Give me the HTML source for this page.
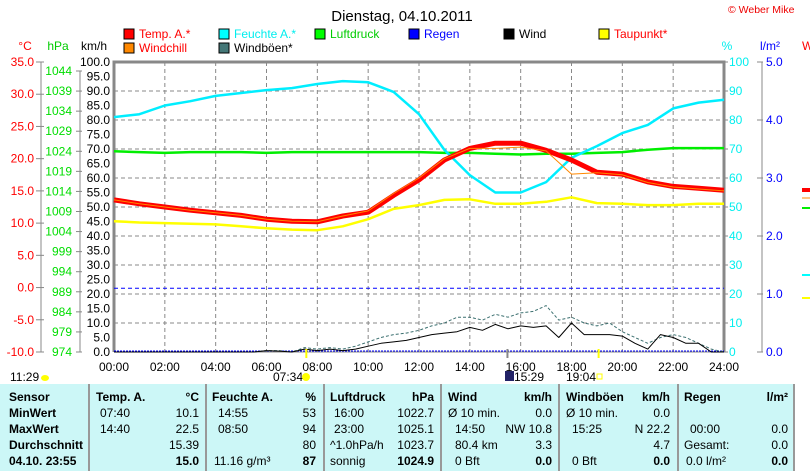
<!DOCTYPE html>
<html><head><meta charset="utf-8"><style>
body{margin:0;width:810px;height:471px;overflow:hidden;background:#fff;font-family:"Liberation Sans",sans-serif;position:relative}
svg{position:absolute;left:0;top:0}
#tbl{position:absolute;left:0;top:384px;width:795px;height:87px;background:#ccf7f7;font-size:12px}
.c{position:absolute;white-space:nowrap}
.b{font-weight:bold}
.sep{position:absolute;top:0;width:2px;height:87px;background:#999}
</style></head><body>
<svg id="chart" width="810" height="384"></svg>
<div id="tbl"></div>
<script>
const hours=[0,1,2,3,4,5,6,7,8,9,10,11,12,13,14,15,16,17,18,19,20,21,22,23,24];
const temp=[13.6,13.0,12.5,12.0,11.6,11.2,10.6,10.3,10.2,11.1,11.7,14.3,16.7,19.8,21.6,22.4,22.4,21.3,19.8,17.9,17.6,16.4,15.7,15.4,15.1];
const windchill=[13.6,13.0,12.5,12.0,11.6,11.2,10.6,10.3,10.2,11.1,11.9,14.6,17.0,20.0,21.6,21.6,21.8,21.2,17.6,17.8,17.5,16.3,15.6,15.3,15.0];
const humidity=[81,82,85,86.5,88.3,89.3,90.3,91,92.4,93.4,93,89.7,82,69.7,61,55,55,58.6,67,71,75.5,78.3,84,86,87];
const pressure=[1024.0,1023.8,1023.6,1023.8,1023.8,1023.8,1023.6,1023.8,1023.8,1023.8,1023.8,1023.8,1023.8,1023.6,1023.6,1023.4,1023.2,1023.4,1023.4,1023.6,1023.8,1024.4,1024.8,1024.8,1024.8];
const dewpoint=[10.3,10.1,10.0,9.9,9.8,9.5,9.2,9.0,8.9,9.5,10.6,12.2,12.8,13.6,13.7,13.0,13.0,13.3,14.0,13.1,13.0,12.8,12.8,13.0,13.0];
const wind=[0,0,0,0,0,0,0,0,0,0,0,0,0.5,0.3,0,1,0.5,1,0.5,1,2,3,3.5,4,5,6,6.5,7,8.5,7.5,9.5,8,9,8.5,9,5,10,6,6,6,5.5,3,1,6,5,3,3,0,0];
const gust=[0,0,0,0,0,0,0,0,0,0,0,0,0.5,0.5,0,1.5,1,1.5,1,2,3.5,5,6,6.5,7.5,9,10,12,12,11,13,12,13.5,14,16,11,12,10,9,10,7,5,3,5,6,5,3,1,0];
const kmhTicks=[0,5,10,15,20,25,30,35,40,45,50,55,60,65,70,75,80,85,90,95,100];
const cTicks=[-10,-5,0,5,10,15,20,25,30,35];
const hpaTicks=[974,979,984,989,994,999,1004,1009,1014,1019,1024,1029,1034,1039,1044];
const pctTicks=[0,10,20,30,40,50,60,70,80,90,100];
const rainTicks=[0,1,2,3,4,5];
const timeLabels=["00:00","02:00","04:00","06:00","08:00","10:00","12:00","14:00","16:00","18:00","20:00","22:00","24:00"];

const X0=114,X1=724,Y0=62,Y1=352;
const xs=h=>X0+(X1-X0)*h/24;
const yK=v=>Y1-(Y1-Y0)*v/100;
const yC=v=>Y0+(35-v)*(Y1-Y0)/45;
const yP=v=>71+(1044-v)*(352-71)/70;
const yR=v=>Y1-(Y1-Y0)*v/5;
const S=document.getElementById('chart');
const NS='http://www.w3.org/2000/svg';
function mk(tag,at,txt){const e=document.createElementNS(NS,tag);for(const k in at)e.setAttribute(k,at[k]);if(txt!==undefined)e.textContent=txt;S.appendChild(e);return e;}
function txt(x,y,s,fill,anchor,size,name){const e=mk('text',{x:x,y:y,fill:fill,'text-anchor':anchor||'start','font-size':size||12,'font-family':'Liberation Sans, sans-serif'},s);

return e;}

txt(402,21,'Dienstag, 04.10.2011','#000','middle',15,'chart-title');
txt(728,13,'© Weber Mike','#e00','start',10.5,'copyright');
// legend
const leg=[[124,38,'#f00','Temp. A.*','#f00'],[219,38,'#0ff','Feuchte A.*','#0ee'],[315,38,'#0f0','Luftdruck','#0c0'],[409,38,'#00f','Regen','#00f'],[504,38,'#000','Wind','#000'],[599,38,'#ff0','Taupunkt*','#f00'],[124,52,'#f80','Windchill','#f00'],[219,52,'#477','Windböen*','#000']];
leg.forEach(l=>{const r=mk('rect',{x:l[0],y:l[1]-9,width:10,height:10,fill:l[2],stroke:'#000'});


txt(l[0]+15,l[1],l[3],l[4],'start',12,'legend-entry');});
txt(25,50,'°C','#f00','middle',12,'celsius-axis-title');
txt(58,50,'hPa','#0c0','middle',12,'hpa-axis-title');
txt(94,50,'km/h','#000','middle',12,'kmh-axis-title');
txt(727,50,'%','#0ee','middle',12,'percent-axis-title');
txt(770,50,'l/m²','#00f','middle',12,'rain-axis-title');
txt(802,50,'W','#f00','start',12,'partial-title');
// grid
for(let i=1;i<10;i++){const y=yK(i*10);const g=mk('line',{x1:X0,x2:X1,y1:y,y2:y,stroke:'#888','stroke-dasharray':'4,3'});

}
for(let i=1;i<12;i++){const x=xs(i*2);const g=mk('line',{x1:x,x2:x,y1:Y0,y2:Y1,stroke:'#888','stroke-dasharray':'4,3'});

}
// frame
mk('polyline',{points:`${X0},${Y1} ${X0},${Y0} ${X1},${Y0} ${X1},${Y1}`,fill:'none',stroke:'#888','stroke-width':3});
mk('line',{x1:X0,x2:X1,y1:Y1,y2:Y1,stroke:'#888','stroke-width':1});
// axes
mk('line',{x1:41,x2:41,y1:62,y2:352,stroke:'#888'});
mk('line',{x1:80,x2:80,y1:71,y2:352,stroke:'#888'});
mk('line',{x1:762,x2:762,y1:62,y2:352,stroke:'#888'});
cTicks.forEach(v=>{mk('line',{x1:36,x2:44,y1:yC(v),y2:yC(v),stroke:'#888'});txt(34,yC(v)+4,v.toFixed(1),'#f00','end',12,'celsius-tick');});
hpaTicks.forEach(v=>{mk('line',{x1:76,x2:82,y1:yP(v),y2:yP(v),stroke:'#888'});txt(72,yP(v)+4,String(v),'#0d0','end',12,'hpa-tick');});
kmhTicks.forEach(v=>{txt(110,yK(v)+4,v.toFixed(1),'#000','end',12,'kmh-tick');});
pctTicks.forEach(v=>{mk('line',{x1:724,x2:728,y1:yK(v),y2:yK(v),stroke:'#888'});txt(729,yK(v)+4,String(v),'#0ee','start',12,'percent-tick');});
rainTicks.forEach(v=>{mk('line',{x1:757,x2:763,y1:yR(v),y2:yR(v),stroke:'#888'});txt(766,yR(v)+4,v.toFixed(1),'#00f','start',12,'rain-tick');});
timeLabels.forEach((t,i)=>txt(xs(i*2),371,t,'#000','middle',12,'time-tick'));
// rain
mk('line',{x1:X0,x2:X1,y1:yK(22),y2:yK(22),stroke:'#00f','stroke-dasharray':'4,3'});
mk('line',{x1:X0,x2:X1,y1:Y1-1,y2:Y1-1,stroke:'#00f','stroke-dasharray':'2,1'});
function series(arr,xf,yf,color,w,name,dash){const p=arr.map((v,i)=>xf(i).toFixed(1)+','+yf(v).toFixed(1)).join(' ');
const e=mk('polyline',{points:p,fill:'none',stroke:color,'stroke-width':w,'stroke-linejoin':'round'});if(dash)e.setAttribute('stroke-dasharray',dash);

}
const xh=i=>xs(hours[i]);
const xhh=i=>xs(i/2);
series(gust,xhh,yK,'#3c7070',1,'gust-series','3,2');
series(wind,xhh,yK,'#000',1,'wind-series');
series(dewpoint,xh,yC,'#ff0',2.5,'dewpoint-series');
series(pressure,xh,yP,'#0e0',2.5,'pressure-series');
series(humidity,xh,yK,'#0ef',2.5,'humidity-series');
series(temp,xh,yC,'#f00',5,'temp-series');
series(windchill,xh,yC,'#f80',1,'windchill-series');
// sun markers
mk('line',{x1:xs(7.567),x2:xs(7.567),y1:349,y2:358,stroke:'#ff0','stroke-width':2});
mk('line',{x1:xs(19.067),x2:xs(19.067),y1:349,y2:358,stroke:'#ff0','stroke-width':2});
mk('line',{x1:xs(15.48),x2:xs(15.48),y1:349,y2:358,stroke:'#888','stroke-width':2});
txt(10,381,'11:29','#000','start',12,'moonrise-time');
mk('ellipse',{cx:45,cy:378,rx:4,ry:3,fill:'#ff0'});
txt(273,381,'07:34','#000','start',12,'sunrise-time');
mk('circle',{cx:306,cy:377,r:4,fill:'#ff0'});
mk('rect',{x:505,y:371,width:9,height:10,fill:'#226'});
txt(514,381,'15:29','#000','start',12,'moonset-time');
txt(566,381,'19:04','#000','start',12,'sunset-time');
mk('rect',{x:597,y:374,width:5,height:5,fill:'none',stroke:'#ff0'});
// right partial legend
[[190,'#f00',4],[198,'#f80',1],[208,'#0e0',2],[275,'#0ff',2],[298,'#ff0',2]].forEach(a=>mk('line',{x1:802,x2:810,y1:a[0],y2:a[0],stroke:a[1],'stroke-width':a[2]}));

// table
const T=document.getElementById('tbl');
function cell(x,y,s,cls,al,name){const d=document.createElement('div');d.className='c '+(cls||'');d.style.top=(y-9)+'px';
if(al==='r'){d.style.right=(795-x)+'px';}else d.style.left=x+'px';d.innerHTML=s;

T.appendChild(d);}
[88,205,323,440,558,677,793].forEach(x=>{const s=document.createElement('div');s.className='sep';s.style.left=x+'px';

T.appendChild(s);});
const R=[15,31,47,63,79];
['Sensor','MinWert','MaxWert','Durchschnitt','04.10. 23:55'].forEach((s,i)=>cell(9,R[i],s,'b','l','row-label'));
cell(96,R[0],'Temp. A.','b');cell(199,R[0],'°C','b','r');
cell(100,R[1],'07:40');cell(199,R[1],'10.1','','r');
cell(100,R[2],'14:40');cell(199,R[2],'22.5','','r');
cell(199,R[3],'15.39','','r');cell(199,R[4],'15.0','b','r');
cell(212,R[0],'Feuchte A.','b');cell(316,R[0],'%','b','r');
cell(218,R[1],'14:55');cell(316,R[1],'53','','r');
cell(218,R[2],'08:50');cell(316,R[2],'94','','r');
cell(316,R[3],'80','','r');cell(214,R[4],'11.16 g/m³');cell(316,R[4],'87','b','r');
cell(330,R[0],'Luftdruck','b');cell(434,R[0],'hPa','b','r');
cell(334,R[1],'16:00');cell(434,R[1],'1022.7','','r');
cell(334,R[2],'23:00');cell(434,R[2],'1025.1','','r');
cell(330,R[3],'^1.0hPa/h');cell(434,R[3],'1023.7','','r');
cell(330,R[4],'sonnig');cell(434,R[4],'1024.9','b','r');
cell(448,R[0],'Wind','b');cell(552,R[0],'km/h','b','r');
cell(448,R[1],'Ø 10 min.');cell(552,R[1],'0.0','','r');
cell(455,R[2],'14:50');cell(552,R[2],'NW 10.8','','r');
cell(455,R[3],'80.4 km');cell(552,R[3],'3.3','','r');
cell(455,R[4],'0 Bft');cell(552,R[4],'0.0','b','r');
cell(566,R[0],'Windböen','b');cell(670,R[0],'km/h','b','r');
cell(566,R[1],'Ø 10 min.');cell(670,R[1],'0.0','','r');
cell(572,R[2],'15:25');cell(670,R[2],'N 22.2','','r');
cell(670,R[3],'4.7','','r');
cell(572,R[4],'0 Bft');cell(670,R[4],'0.0','b','r');
cell(684,R[0],'Regen','b');cell(788,R[0],'l/m²','b','r');
cell(690,R[2],'00:00');cell(788,R[2],'0.0','','r');
cell(684,R[3],'Gesamt:');cell(788,R[3],'0.0','','r');
cell(686,R[4],'0.0 l/m²');cell(788,R[4],'0.0','b','r');
</script>
</body></html>
